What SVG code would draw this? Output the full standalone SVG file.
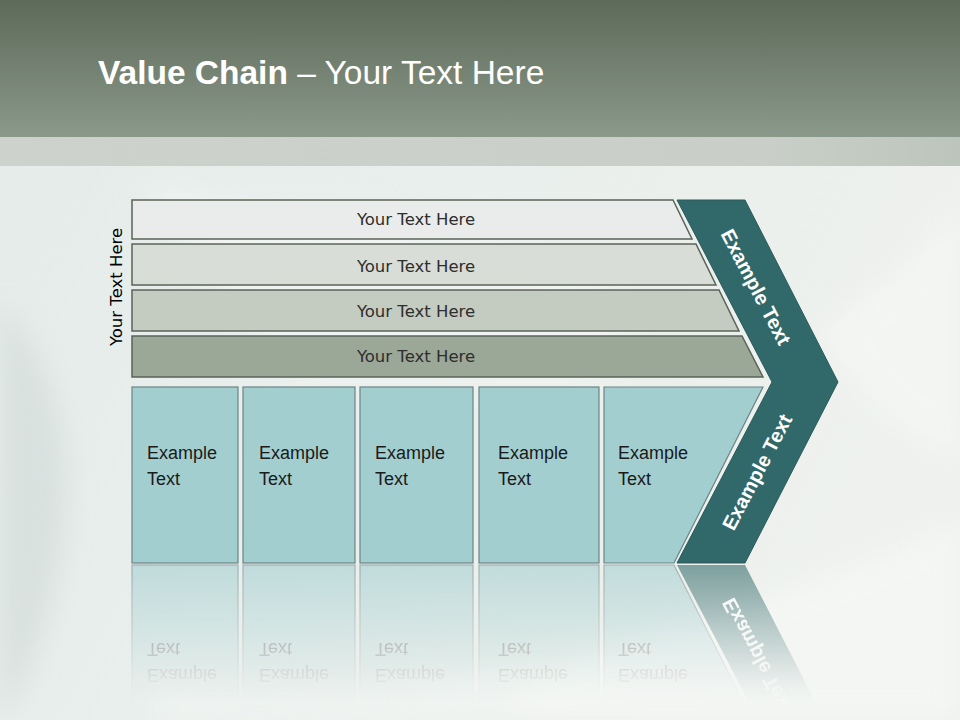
<svg xmlns="http://www.w3.org/2000/svg" xmlns:xlink="http://www.w3.org/1999/xlink" width="960" height="720" viewBox="0 0 960 720">
  <style>
    .bar { stroke: #59635a; stroke-width: 1.5; }
    .barText { font-family: "DejaVu Sans", Verdana, sans-serif; font-size: 16.5px; fill: #2e2e2e; text-anchor: middle; }
    .box { fill: #a3ced0; stroke: #6c8486; stroke-width: 1.2; }
    .boxText { font-family: "Liberation Sans", Arial, sans-serif; font-size: 18px; fill: #1a1a1a; }
    .chev { fill: #31696a; stroke: #2a5a5b; stroke-width: 1; }
    .chevText { font-family: "Liberation Sans", Arial, sans-serif; font-size: 20px; font-weight: bold; fill: #ffffff; text-anchor: middle; }
  </style>
  <defs>
    <linearGradient id="hdr" x1="0" y1="0" x2="0" y2="1">
      <stop offset="0" stop-color="#5d6a5a"/>
      <stop offset="1" stop-color="#8b998a"/>
    </linearGradient>
    <linearGradient id="bg" x1="0" y1="0" x2="1" y2="0.4">
      <stop offset="0" stop-color="#e4ebe8"/>
      <stop offset="0.5" stop-color="#e9efec"/>
      <stop offset="1" stop-color="#eef1ed"/>
    </linearGradient>
    <linearGradient id="band" x1="0" y1="0" x2="1" y2="0">
      <stop offset="0" stop-color="#cdd3cc"/>
      <stop offset="0.8" stop-color="#c9cfc8"/>
      <stop offset="1" stop-color="#bcc5bb"/>
    </linearGradient>
    <linearGradient id="fade" x1="0" y1="0" x2="0" y2="1">
      <stop offset="0" stop-color="#fff" stop-opacity="0.6"/>
      <stop offset="0.85" stop-color="#fff" stop-opacity="0.05"/>
      <stop offset="1" stop-color="#fff" stop-opacity="0"/>
    </linearGradient>
    <mask id="reflMask" maskUnits="userSpaceOnUse" x="0" y="564" width="960" height="156">
      <rect x="0" y="564" width="960" height="140" fill="url(#fade)"/>
    </mask>
    <filter id="soft" x="-20%" y="-20%" width="140%" height="140%">
      <feGaussianBlur stdDeviation="14"/>
    </filter>
  </defs>

  <!-- background -->
  <rect x="0" y="0" width="960" height="720" fill="url(#bg)"/>
  <g filter="url(#soft)" opacity="0.7">
    <path d="M0,300 C50,360 80,440 60,560 C45,640 20,700 0,720 Z" fill="#d3dcda"/>
    <path d="M140,180 C300,230 420,200 560,260 C620,290 640,340 600,380 L300,380 C250,330 200,260 140,180 Z" fill="#f4f7f5"/>
    <path d="M420,720 C560,640 760,620 960,520 L960,720 Z" fill="#f7f9f7"/>
    <path d="M820,330 C900,280 940,230 960,200 L960,460 C900,430 860,400 820,330 Z" fill="#f6f8f6"/>
    <path d="M150,690 C300,700 420,690 520,660 L520,720 L150,720 Z" fill="#f3f6f4"/>
  </g>

  <!-- header -->
  <rect x="0" y="0" width="960" height="137" fill="url(#hdr)"/>
  <rect x="0" y="137" width="960" height="29" fill="url(#band)"/>
  <g id="title">
    <text x="98" y="84" font-family="Liberation Sans, Arial, sans-serif" font-size="33.5" fill="#ffffff"><tspan font-weight="bold">Value Chain</tspan> – Your Text Here</text>
  </g>

  <!-- vertical label -->
  <g id="side-label">
    <text class="barText" x="122" y="287" transform="rotate(-90 122 287)" style="fill:#000">Your Text Here</text>
  </g>

  <!-- horizontal bars -->
  <g id="bar1">
    <polygon class="bar" points="132,200 673,200 692,239 132,239" fill="#e9ecea"/>
    <text class="barText" x="416" y="225">Your Text Here</text>
  </g>
  <g id="bar2">
    <polygon class="bar" points="132,244 696,244 716,285 132,285" fill="#d8ddd7"/>
    <text class="barText" x="416" y="272">Your Text Here</text>
  </g>
  <g id="bar3">
    <polygon class="bar" points="132,290 719,290 739,331 132,331" fill="#c4cbc1"/>
    <text class="barText" x="416" y="317">Your Text Here</text>
  </g>
  <g id="bar4">
    <polygon class="bar" points="132,336 742,336 763,377 132,377" fill="#9ba797"/>
    <text class="barText" x="416" y="362">Your Text Here</text>
  </g>

  <!-- boxes + chevron (source for reflection) -->
  <g id="lower">
    <g id="box1">
      <rect class="box" x="132" y="387" width="106" height="176"/>
      <text class="boxText" x="147" y="459">Example</text>
      <text class="boxText" x="147" y="485">Text</text>
    </g>
    <g id="box2">
      <rect class="box" x="243" y="387" width="112" height="176"/>
      <text class="boxText" x="259" y="459">Example</text>
      <text class="boxText" x="259" y="485">Text</text>
    </g>
    <g id="box3">
      <rect class="box" x="360" y="387" width="113" height="176"/>
      <text class="boxText" x="375" y="459">Example</text>
      <text class="boxText" x="375" y="485">Text</text>
    </g>
    <g id="box4">
      <rect class="box" x="479" y="387" width="120" height="176"/>
      <text class="boxText" x="498" y="459">Example</text>
      <text class="boxText" x="498" y="485">Text</text>
    </g>
    <g id="box5">
      <polygon class="box" points="604,387 763,387 674,563 604,563"/>
      <text class="boxText" x="618" y="459">Example</text>
      <text class="boxText" x="618" y="485">Text</text>
    </g>
    <g id="chevron">
      <polygon class="chev" points="677,200 745,200 838,382 745,563 677,563 772,382"/>
      <text class="chevText" x="756" y="287" dy="7" transform="rotate(62.4 756 287)">Example Text</text>
      <text class="chevText" x="757" y="472" dy="7" transform="rotate(-62.4 757 472)">Example Text</text>
    </g>
  </g>

  <!-- reflection -->
  <g id="reflection" mask="url(#reflMask)">
    <g transform="translate(0,1128) scale(1,-1)">
      <use href="#box1"/>
      <use href="#box2"/>
      <use href="#box3"/>
      <use href="#box4"/>
      <use href="#box5"/>
      <polygon points="772,382 838,382 745,563 677,563" fill="#31696a"/>
      <text class="chevText" x="757" y="472" dy="7" transform="rotate(-62.4 757 472)">Example Text</text>
    </g>
  </g>
</svg>
